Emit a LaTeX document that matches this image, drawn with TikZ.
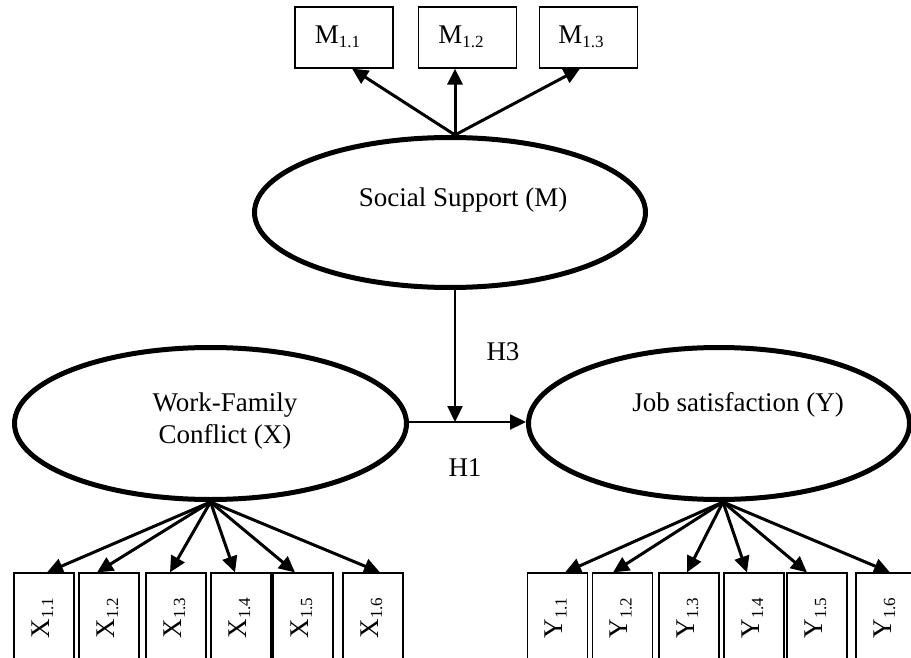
\documentclass[tikz,border=0pt]{standalone}
\usepackage{fontspec}
\setmainfont{Liberation Serif}
\usetikzlibrary{arrows.meta,shapes.geometric,calc}
\newcommand\mysub[1]{\raisebox{-4pt}{\fontsize{17}{17}\selectfont #1}}
\begin{document}
\begin{tikzpicture}[x=1pt,y=-1pt,
  latent/.style={ellipse,draw,line width=5pt,inner sep=0pt},
  ind/.style={draw,line width=1.2pt,minimum width=60pt,minimum height=110pt,inner sep=0pt},
  mbox/.style={draw,line width=1.2pt,minimum width=98pt,minimum height=61pt,inner sep=0pt},
  lbl/.style={font=\fontsize{27}{32}\selectfont,inner sep=0pt,align=center},
  rlbl/.style={font=\fontsize{27}{30}\selectfont,inner sep=0pt,rotate=90},
  ld/.style={line width=3pt,-{Triangle[length=16pt,width=15pt]}},
  hp/.style={line width=2.3pt,-{Triangle[length=16pt,width=15pt]}}]
\useasboundingbox (0,0) rectangle (911,658);
\clip (0,0) rectangle (911,658);

% latent variables
\node[latent,minimum width=391pt,minimum height=150pt] (ss) at (450,212.5) {};
\node[lbl] (sst) at (463,200) {Social Support (M)};
\node[latent,minimum width=392pt,minimum height=152pt] (wfc) at (210.5,423.5) {};
\node[lbl] (wfct) at (225,421) {Work-Family\\Conflict (X)};
\node[latent,minimum width=381pt,minimum height=152pt] (job) at (719,423.5) {};
\node[lbl] (jobt) at (738,405) {Job satisfaction (Y)};

% M indicators
\node[mbox] (m1) at (344,37.5) {};
\node[mbox] (m2) at (467.5,37.5) {};
\node[mbox] (m3) at (588.5,37.5) {};
\node[lbl] (m1t) at (337.5,37) {M\mysub{1.1}};
\node[lbl] (m2t) at (461,37) {M\mysub{1.2}};
\node[lbl] (m3t) at (581,37) {M\mysub{1.3}};
\coordinate (mo) at ([xshift=5pt]ss.north);
\draw[ld] (mo) -- ([xshift=8pt]m1.south);
\draw[ld] (mo) -- ([xshift=-12.5pt]m2.south);
\draw[ld] (mo) -- ([xshift=-8.5pt]m3.south);

% X indicators
\foreach \i/\cx/\dx in {1/44/3,2/109/-12,3/176/-6,4/241/-6,5/303/-8,6/373/7}{
  \node[ind] (x\i) at (\cx,628) {};
  \node[rlbl] (x\i t) at (\cx-1.5,618) {X\mysub{1.\i}};
  \draw[ld] (wfc.south) -- ([xshift=\dx pt]x\i.north);
}

% Y indicators
\foreach \i/\cx/\dx in {1/557.5/7.5,2/622.5/-9.5,3/689/-2,4/754/-7,5/817/-10,6/886/4}{
  \node[ind] (y\i) at (\cx,628) {};
  \node[rlbl] (y\i t) at (\cx-1.5,618) {Y\mysub{1.\i}};
  \draw[ld] ([xshift=4pt]job.south) -- ([xshift=\dx pt]y\i.north);
}

% structural paths
\coordinate (j) at (455,422);
\draw[hp] (wfc.east |- j) -- (job.west |- j);
\draw[hp] (ss.south -| j) -- (j);
\node[lbl] (h3) at (503,352) {H3};
\node[lbl] (h1) at (465,468) {H1};
\end{tikzpicture}
\end{document}
